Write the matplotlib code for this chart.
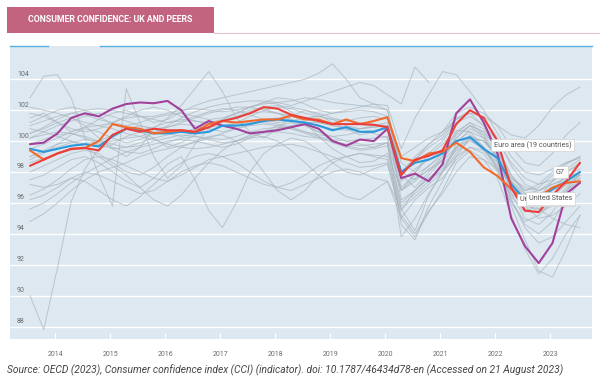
import numpy as np
import matplotlib
matplotlib.use('Agg')
import matplotlib.pyplot as plt
from matplotlib.patches import Rectangle
from matplotlib.lines import Line2D

# quarterly readings, Jul 2013 .. Jul 2023 (41 points)
n_pts = 41
t = 2013 + (np.arange(n_pts) * 3 + 6.5) / 12

uk = [99.8, 99.9, 100.5, 101.5, 101.8, 101.6, 102.1, 102.4, 102.5, 102.45, 102.6,
      102.0, 100.8, 101.3, 101.0, 100.8, 100.5, 100.6, 100.7, 100.9, 101.1, 100.8,
      100.0, 99.7, 100.1, 100.0, 100.8, 97.6, 97.9, 97.4, 98.5, 101.8, 102.7, 101.2,
      99.2, 95.0, 93.2, 92.1, 93.4, 96.6, 97.3]
euro_area = [98.4, 98.8, 99.2, 99.5, 99.55, 99.4, 100.4, 100.8, 100.6, 100.8, 100.7,
             100.7, 100.6, 100.9, 101.3, 101.5, 101.8, 102.2, 102.1, 101.7, 101.5, 101.3,
             101.1, 101.1, 101.1, 101.05, 100.9, 97.8, 98.8, 99.05, 99.4, 101.1, 102.0,
             101.5, 100.0, 97.0, 95.5, 95.4, 96.5, 97.4, 98.6]
g7 = [99.5, 99.3, 99.5, 99.7, 99.8, 99.65, 100.3, 100.8, 100.7, 100.5, 100.5, 100.6,
      100.5, 100.6, 101.0, 101.0, 101.1, 101.3, 101.4, 101.3, 101.2, 101.0, 100.7,
      100.9, 100.6, 100.6, 100.9, 98.0, 98.6, 98.8, 99.2, 100.0, 100.25, 99.5, 98.9,
      97.2, 96.2, 96.3, 96.9, 97.4, 98.0]
united_states = [99.4, 98.8, 99.2, 99.5, 99.55, 100.0, 101.1, 100.9, 100.8, 100.5,
                 100.6, 100.7, 100.6, 101.1, 101.3, 101.2, 101.3, 101.4, 101.4, 101.65,
                 101.4, 101.4, 101.1, 101.4, 101.1, 101.3, 101.55, 98.9, 98.7, 99.2,
                 99.3, 99.9, 99.3, 98.3, 97.75, 96.9, 96.1, 96.4, 97.0, 97.3, 97.4]

nan = np.nan
others = [
    [90.0, 87.8, 91.8, 96.1, 98.2, 99.5, 99.8, 100.3, 100.6, 100.2, 99.6, 99.9, 100.4, 100.9, 101.3, 101.6, 101.9, 102.1, 101.8, 101.4, 101.0, 100.6, 100.3, 100.0, 99.8, 99.6, 99.9, 96.8, 97.6, 98.1, 98.7, 99.6, 100.1, 99.4, 98.3, 96.4, 95.4, 95.9, 96.9, 97.7, 98.2],
    [102.8, 104.2, 104.3, 102.8, 100.2, 97.8, 95.8, 103.4, 101.2, 99.0, 97.6, 98.4, 99.8, 100.8, 101.4, 101.8, 102.2, 102.5, 102.4, 101.9, 101.2, 100.3, 99.5, 99.0, 98.6, 98.7, 99.2, 96.8, 97.9, 99.0, 99.8, 100.7, 100.6, 99.6, 98.1, 96.6, 95.9, 96.4, 97.4, 98.0, 98.6],
    [100.5, 100.8, 101.2, 101.5, 101.0, 100.2, 99.5, 99.0, 99.6, 100.8, 101.5, 102.3, 103.4, 104.5, 103.2, 101.5, 100.6, 100.2, 100.8, 101.6, 102.0, 101.7, 101.2, 100.8, 100.4, 100.6, 101.0, 98.0, 99.0, 99.8, 100.4, 101.5, 101.8, 101.0, 99.5, 97.8, 96.8, 97.2, 98.0, 98.6, 99.0],
    [97.5, 97.8, 98.3, 98.8, 99.0, 98.6, 98.0, 97.4, 97.0, 97.6, 98.5, 99.0, 97.5, 95.5, 94.4, 96.0, 98.0, 99.2, 99.8, 100.2, 100.0, 99.4, 98.6, 98.0, 97.8, 98.2, 98.5, 95.0, 96.2, 97.0, 97.6, 98.8, 99.6, 99.2, 98.0, 96.0, 94.8, 95.2, 96.0, 96.8, 97.4],
    [101.5, 101.8, 101.2, 100.6, 100.9, 101.4, 101.8, 102.0, 101.6, 101.2, 101.4, 101.9, 102.3, 102.6, 102.8, 103.0, 103.2, 103.4, 103.6, 103.8, 104.0, 104.4, 105.0, 104.0, 102.8, 102.4, 102.0, 98.0, 97.5, 98.4, 99.2, 100.5, 101.2, 100.8, 99.6, 97.6, 96.8, 97.0, 97.8, 98.5, 99.0],
    [99.5, 99.8, 100.2, 100.6, 100.9, 101.0, 100.8, 100.5, 100.3, 100.6, 101.0, 101.5, 101.9, 102.2, 102.4, 102.5, 102.6, 102.6, 102.5, 102.3, 102.6, 102.9, 103.2, 103.5, 103.8, 103.6, 103.0, 102.4, 104.8, 103.8, nan, nan, nan, nan, nan, nan, nan, nan, nan, nan, nan],
    [100.2, 100.6, 101.0, 101.3, 101.6, 101.8, 101.6, 101.3, 101.0, 100.8, 100.9, 101.2, 101.5, 101.8, 102.0, 102.2, 102.2, 102.0, 101.8, 101.6, 101.5, 101.6, 101.8, 102.0, 102.2, 102.4, 102.3, 99.5, 101.5, 103.0, 104.5, 104.3, 103.2, 102.0, 100.5, 99.0, 98.0, 97.8, 98.2, 98.6, 98.9],
    [98.8, 99.2, 99.8, 100.4, 100.8, 100.6, 100.2, 99.9, 100.1, 100.5, 100.9, 101.1, 101.0, 100.8, 100.6, 100.8, 101.1, 101.4, 101.5, 101.4, 101.2, 101.0, 100.8, 100.7, 100.8, 101.0, 101.2, 99.0, 99.6, 100.2, 100.6, 101.4, 101.8, 101.6, 101.0, 100.4, 100.2, 101.0, 102.2, 103.0, 103.5],
    [96.5, 96.9, 97.5, 98.2, 98.8, 99.0, 98.8, 98.4, 98.0, 97.6, 97.4, 97.8, 98.3, 98.8, 99.0, 99.2, 99.4, 99.6, 99.7, 99.8, 99.6, 99.3, 99.0, 98.6, 98.3, 98.4, 98.6, 95.2, 94.0, 95.5, 96.6, 98.0, 99.0, 98.8, 98.2, 97.2, 96.4, 95.6, 95.0, 94.6, 94.4],
    [94.8, 95.3, 96.0, 96.8, 97.5, 98.0, 98.3, 98.6, 99.0, 99.3, 99.5, 99.7, 99.9, 100.2, 100.5, 100.8, 101.0, 101.1, 101.0, 100.8, 100.5, 100.2, 99.9, 99.6, 99.4, 99.5, 99.7, 96.0, 96.8, 97.6, 98.4, 99.5, 100.3, 100.0, 99.0, 97.4, 96.4, 96.2, 96.8, 97.4, 97.8],
    [95.6, 96.0, 96.6, 97.3, 97.9, 98.4, 98.9, 99.3, 99.6, 99.8, 100.0, 100.1, 100.0, 99.8, 99.6, 99.8, 100.2, 100.6, 101.0, 101.2, 101.0, 100.6, 100.1, 99.7, 99.5, 99.6, 99.9, 95.6, 94.2, 96.5, 98.0, 99.8, 100.8, 100.4, 99.2, 97.0, 95.8, 95.6, 96.4, 97.2, 97.8],
    [98.0, 98.4, 98.8, 99.2, 99.4, 99.2, 98.6, 98.0, 97.8, 98.3, 99.0, 99.6, 100.0, 100.3, 100.4, 100.0, 99.2, 98.0, 96.8, 96.2, 96.8, 97.8, 98.6, 99.0, 99.2, 99.0, 98.8, 95.5, 96.8, 97.6, 98.0, 99.2, 100.2, 100.0, 99.0, 97.4, 96.6, 96.8, 97.2, 97.6, 98.0],
    [99.0, 99.4, 99.8, 100.0, 99.6, 99.0, 98.4, 97.8, 97.0, 96.2, 95.8, 96.5, 97.6, 98.6, 99.4, 100.0, 100.4, 100.6, 100.8, 101.0, 101.2, 101.2, 101.0, 100.8, 100.6, 100.7, 100.8, 97.0, 97.8, 98.4, 99.0, 100.2, 101.0, 100.6, 99.6, 97.8, 96.6, 96.4, 96.8, 97.2, 97.6],
    [97.2, 97.0, 97.2, 97.6, 97.4, 96.8, 96.2, 95.8, 96.4, 97.2, 98.0, 98.6, 99.0, 99.2, 99.0, 98.6, 98.0, 97.4, 97.0, 96.8, 97.2, 97.6, 98.0, 98.2, 98.0, 97.6, 97.4, 95.0, 93.8, 95.4, 96.8, 98.6, 99.4, 98.8, 97.6, 95.2, 93.0, 91.4, 92.4, 94.0, 95.2],
    [101.0, 101.3, 101.6, 101.8, 101.7, 101.4, 101.2, 101.0, 101.2, 101.5, 101.7, 101.8, 101.6, 101.4, 101.5, 101.8, 102.0, 102.2, 102.3, 102.2, 102.0, 101.8, 101.5, 101.3, 101.2, 101.1, 101.0, 97.4, 98.2, 98.8, 99.4, 100.6, 101.2, 100.4, 98.6, 96.2, 94.6, 94.0, 94.8, 96.2, 97.4],
    [100.8, 100.6, 100.3, 100.0, 99.8, 100.0, 100.4, 100.8, 101.0, 100.8, 100.5, 100.3, 100.5, 100.9, 101.3, 101.6, 101.8, 101.9, 101.8, 101.6, 101.4, 101.2, 101.0, 100.9, 100.8, 100.9, 101.0, 96.2, 96.8, 97.8, 98.8, 100.0, 100.6, 100.2, 99.0, 96.6, 95.0, 94.6, 95.4, 96.8, 98.0],
    [102.2, 102.0, 101.8, 101.5, 101.2, 101.0, 101.2, 101.6, 102.0, 102.2, 102.0, 101.6, 101.3, 101.2, 101.4, 101.8, 102.2, 102.5, 102.8, 102.7, 102.4, 102.0, 101.8, 101.9, 102.0, 101.9, 101.6, 97.8, 97.0, 98.0, 99.0, 100.4, 101.0, 100.2, 98.8, 96.8, 95.6, 95.4, 96.0, 97.0, 97.8],
    [99.8, 100.1, 100.4, 100.5, 100.3, 100.0, 99.6, 99.3, 99.2, 99.5, 99.9, 100.2, 100.3, 100.2, 100.1, 100.3, 100.6, 100.8, 100.9, 100.8, 100.6, 100.4, 100.3, 100.4, 100.6, 100.5, 100.2, 94.6, 93.6, 95.8, 97.4, 99.0, 100.2, 100.0, 99.2, 97.2, 95.8, 95.0, 95.2, 95.8, 96.6],
    [101.2, 101.6, 102.0, 102.2, 102.0, 101.6, 101.1, 100.8, 100.7, 100.9, 101.2, 101.4, 101.3, 101.1, 101.0, 101.2, 101.6, 102.0, 102.2, 102.1, 101.8, 101.6, 101.4, 101.3, 101.5, 101.6, 101.4, 98.6, 98.0, 99.2, 100.0, 101.2, 101.6, 101.0, 100.0, 98.6, 97.6, 97.2, 97.5, 98.0, 98.5],
    [100.2, 100.4, 100.6, 100.5, 100.2, 99.8, 99.5, 99.6, 99.9, 100.2, 100.4, 100.6, 100.8, 100.9, 101.0, 101.1, 101.2, 101.2, 101.1, 100.9, 100.6, 100.3, 100.1, 100.0, 100.1, 100.2, 100.3, 96.8, 97.4, 98.2, 98.8, 100.2, 101.0, 100.6, 99.4, 97.4, 96.0, 95.4, 95.8, 96.8, 97.6],
    [98.6, 98.9, 99.2, 99.4, 99.6, 99.8, 100.0, 100.2, 100.3, 100.1, 99.8, 99.6, 99.5, 99.6, 99.8, 100.0, 100.2, 100.3, 100.0, 99.4, 98.6, 97.8, 97.0, 96.4, 96.2, 96.8, 97.4, 95.6, 96.4, 97.2, 98.0, 99.0, 99.6, 99.4, 98.6, 97.6, 97.0, 96.8, 97.2, 97.6, 98.0],
    [96.2, 96.5, 97.0, 97.6, 98.0, 97.8, 97.4, 97.0, 96.6, 96.8, 97.4, 98.0, 98.4, 98.6, 98.4, 98.0, 97.6, 97.2, 97.0, 97.3, 97.8, 98.4, 98.8, 99.0, 99.2, 99.1, 99.0, 95.8, 96.6, 97.4, 98.2, 99.4, 100.0, 99.6, 98.4, 96.2, 94.4, 93.4, 93.8, 94.8, 95.8],
    [100.5, 100.9, 101.4, 101.8, 102.0, 102.1, 102.0, 101.8, 101.6, 101.6, 101.8, 102.0, 102.1, 102.0, 101.9, 102.0, 102.2, 102.4, 102.5, 102.6, 102.8, 102.7, 102.5, 102.4, 102.3, 102.2, 102.0, 98.0, 98.8, 99.6, 100.2, 101.4, 102.0, 101.4, 100.2, 98.4, 97.2, 96.8, 97.4, 98.2, 98.8],
    [99.0, 99.3, 99.6, 99.9, 100.1, 100.0, 99.8, 99.6, 99.7, 100.0, 100.2, 100.4, 100.3, 100.1, 99.9, 100.0, 100.3, 100.5, 100.6, 100.5, 100.3, 100.2, 100.0, 99.8, 99.7, 99.8, 99.9, 93.8, 95.0, 96.6, 98.0, 99.6, 100.4, 99.6, 98.2, 95.8, 93.6, 91.6, 91.2, 93.0, 95.2],
    [101.8, 101.6, 101.2, 100.8, 100.6, 100.8, 101.2, 101.5, 101.6, 101.4, 101.2, 101.3, 101.6, 101.9, 102.1, 102.0, 101.7, 101.4, 101.2, 101.3, 101.5, 101.6, 101.4, 101.0, 100.8, 100.9, 101.0, 97.8, 98.8, 99.8, 100.6, 101.8, 102.2, 101.8, 101.0, 99.6, 98.6, 98.4, 99.2, 100.4, 101.2],
]

years = list(range(2014, 2024))
y_ticks = list(range(88, 106, 2))

title = 'CONSUMER CONFIDENCE: UK AND PEERS'
source = ('Source: OECD (2023), Consumer confidence index (CCI) (indicator). '
          'doi: 10.1787/46434d78-en (Accessed on 21 August 2023)')

BG = '#dde8f1'
GREY = '#a9b6bf'
PURPLE = '#a2409a'
RED = '#ec3f3a'
BLUE = '#2a97dd'
ORANGE = '#f2692b'
TXT = '#6b6b6b'

plt.rcParams['font.family'] = ['Roboto', 'DejaVu Sans']

W, H = 600, 386
fig = plt.figure(figsize=(6, 3.86), dpi=100)

def fx(px): return px / W
def fy(py): return 1 - py / H

# title tab
fig.add_artist(Rectangle((fx(7), fy(33)), fx(214) - fx(7), fy(7) - fy(33),
                         transform=fig.transFigure, fc='#c2647f', ec='none'))
fig.add_artist(Line2D([fx(214), fx(600)], [fy(32.5), fy(32.5)],
                      transform=fig.transFigure, color='#e6c3cd', lw=0.8))
fig.text(fx(110), fy(20), title, color='white', fontsize=6.3, fontweight='bold',
         ha='center', va='center')

# plot area
ax = fig.add_axes([fx(10), fy(339), fx(592) - fx(10), fy(46) - fy(339)])
ax.set_facecolor(BG)
for s in ax.spines.values():
    s.set_visible(False)

fig.add_artist(Line2D([fx(10), fx(48)], [fy(45.5), fy(45.5)],
                      transform=fig.transFigure, color='#5aaee0', lw=1.0))
fig.add_artist(Line2D([fx(100), fx(592)], [fy(45.5), fy(45.5)],
                      transform=fig.transFigure, color='#5aaee0', lw=1.0))

x0 = 2014 - 45.2 / 55
x1 = 2014 + 536.8 / 55
y1 = 104 + (79.3 - 46) / 15.45
y0 = 88 - (339 - 326.5) / 15.45
ax.set_xlim(x0, x1)
ax.set_ylim(y0, y1)

for v in y_ticks:
    ax.axhline(v, color='white', lw=1.0, zorder=1)
    ax.text(x0 + 7 / 55, v + 5 / 15.45, str(v), color=TXT, fontsize=5,
            ha='left', va='center')
ax.set_yticks([])

ax.set_xticks(years)
ax.set_xticklabels([str(y) for y in years], color=TXT, fontsize=5)
ax.tick_params(axis='x', direction='in', length=4, width=0.8, color='white', pad=9)

for series in others:
    ax.plot(t, series, color=GREY, lw=0.7, alpha=0.7, zorder=2,
            solid_joinstyle='round')

hl = dict(lw=1.5, solid_joinstyle='round', solid_capstyle='round')
ax.plot(t, uk, color=PURPLE, zorder=3, **hl)
ax.plot(t, g7, color=BLUE, zorder=4, **hl)
ax.plot(t, united_states, color=ORANGE, zorder=4, **hl)
ax.plot(t, euro_area, color=RED, zorder=5, **hl)

box = dict(boxstyle='square,pad=0.35', fc='white', ec='#d0d0d0', lw=0.5)
fig.text(fx(494), fy(145), 'Euro area (19 countries)', color='#555555',
         fontsize=5.2, ha='left', va='center', bbox=box)
fig.text(fx(556), fy(172), 'G7', color='#555555', fontsize=5.2,
         ha='left', va='center', bbox=box)
# UK label sits behind the US one, as in the original
fig.text(fx(520), fy(200), 'United Kingdom', color='#555555', fontsize=5.2,
         ha='left', va='center', bbox=box)
fig.text(fx(529), fy(198.5), 'United States', color='#555555', fontsize=5.2,
         ha='left', va='center', bbox=box)

fig.text(fx(7), fy(370), source, color='#444444', fontsize=7.4,
         style='italic', ha='left', va='center')

fig.savefig('out.png', dpi=100)
